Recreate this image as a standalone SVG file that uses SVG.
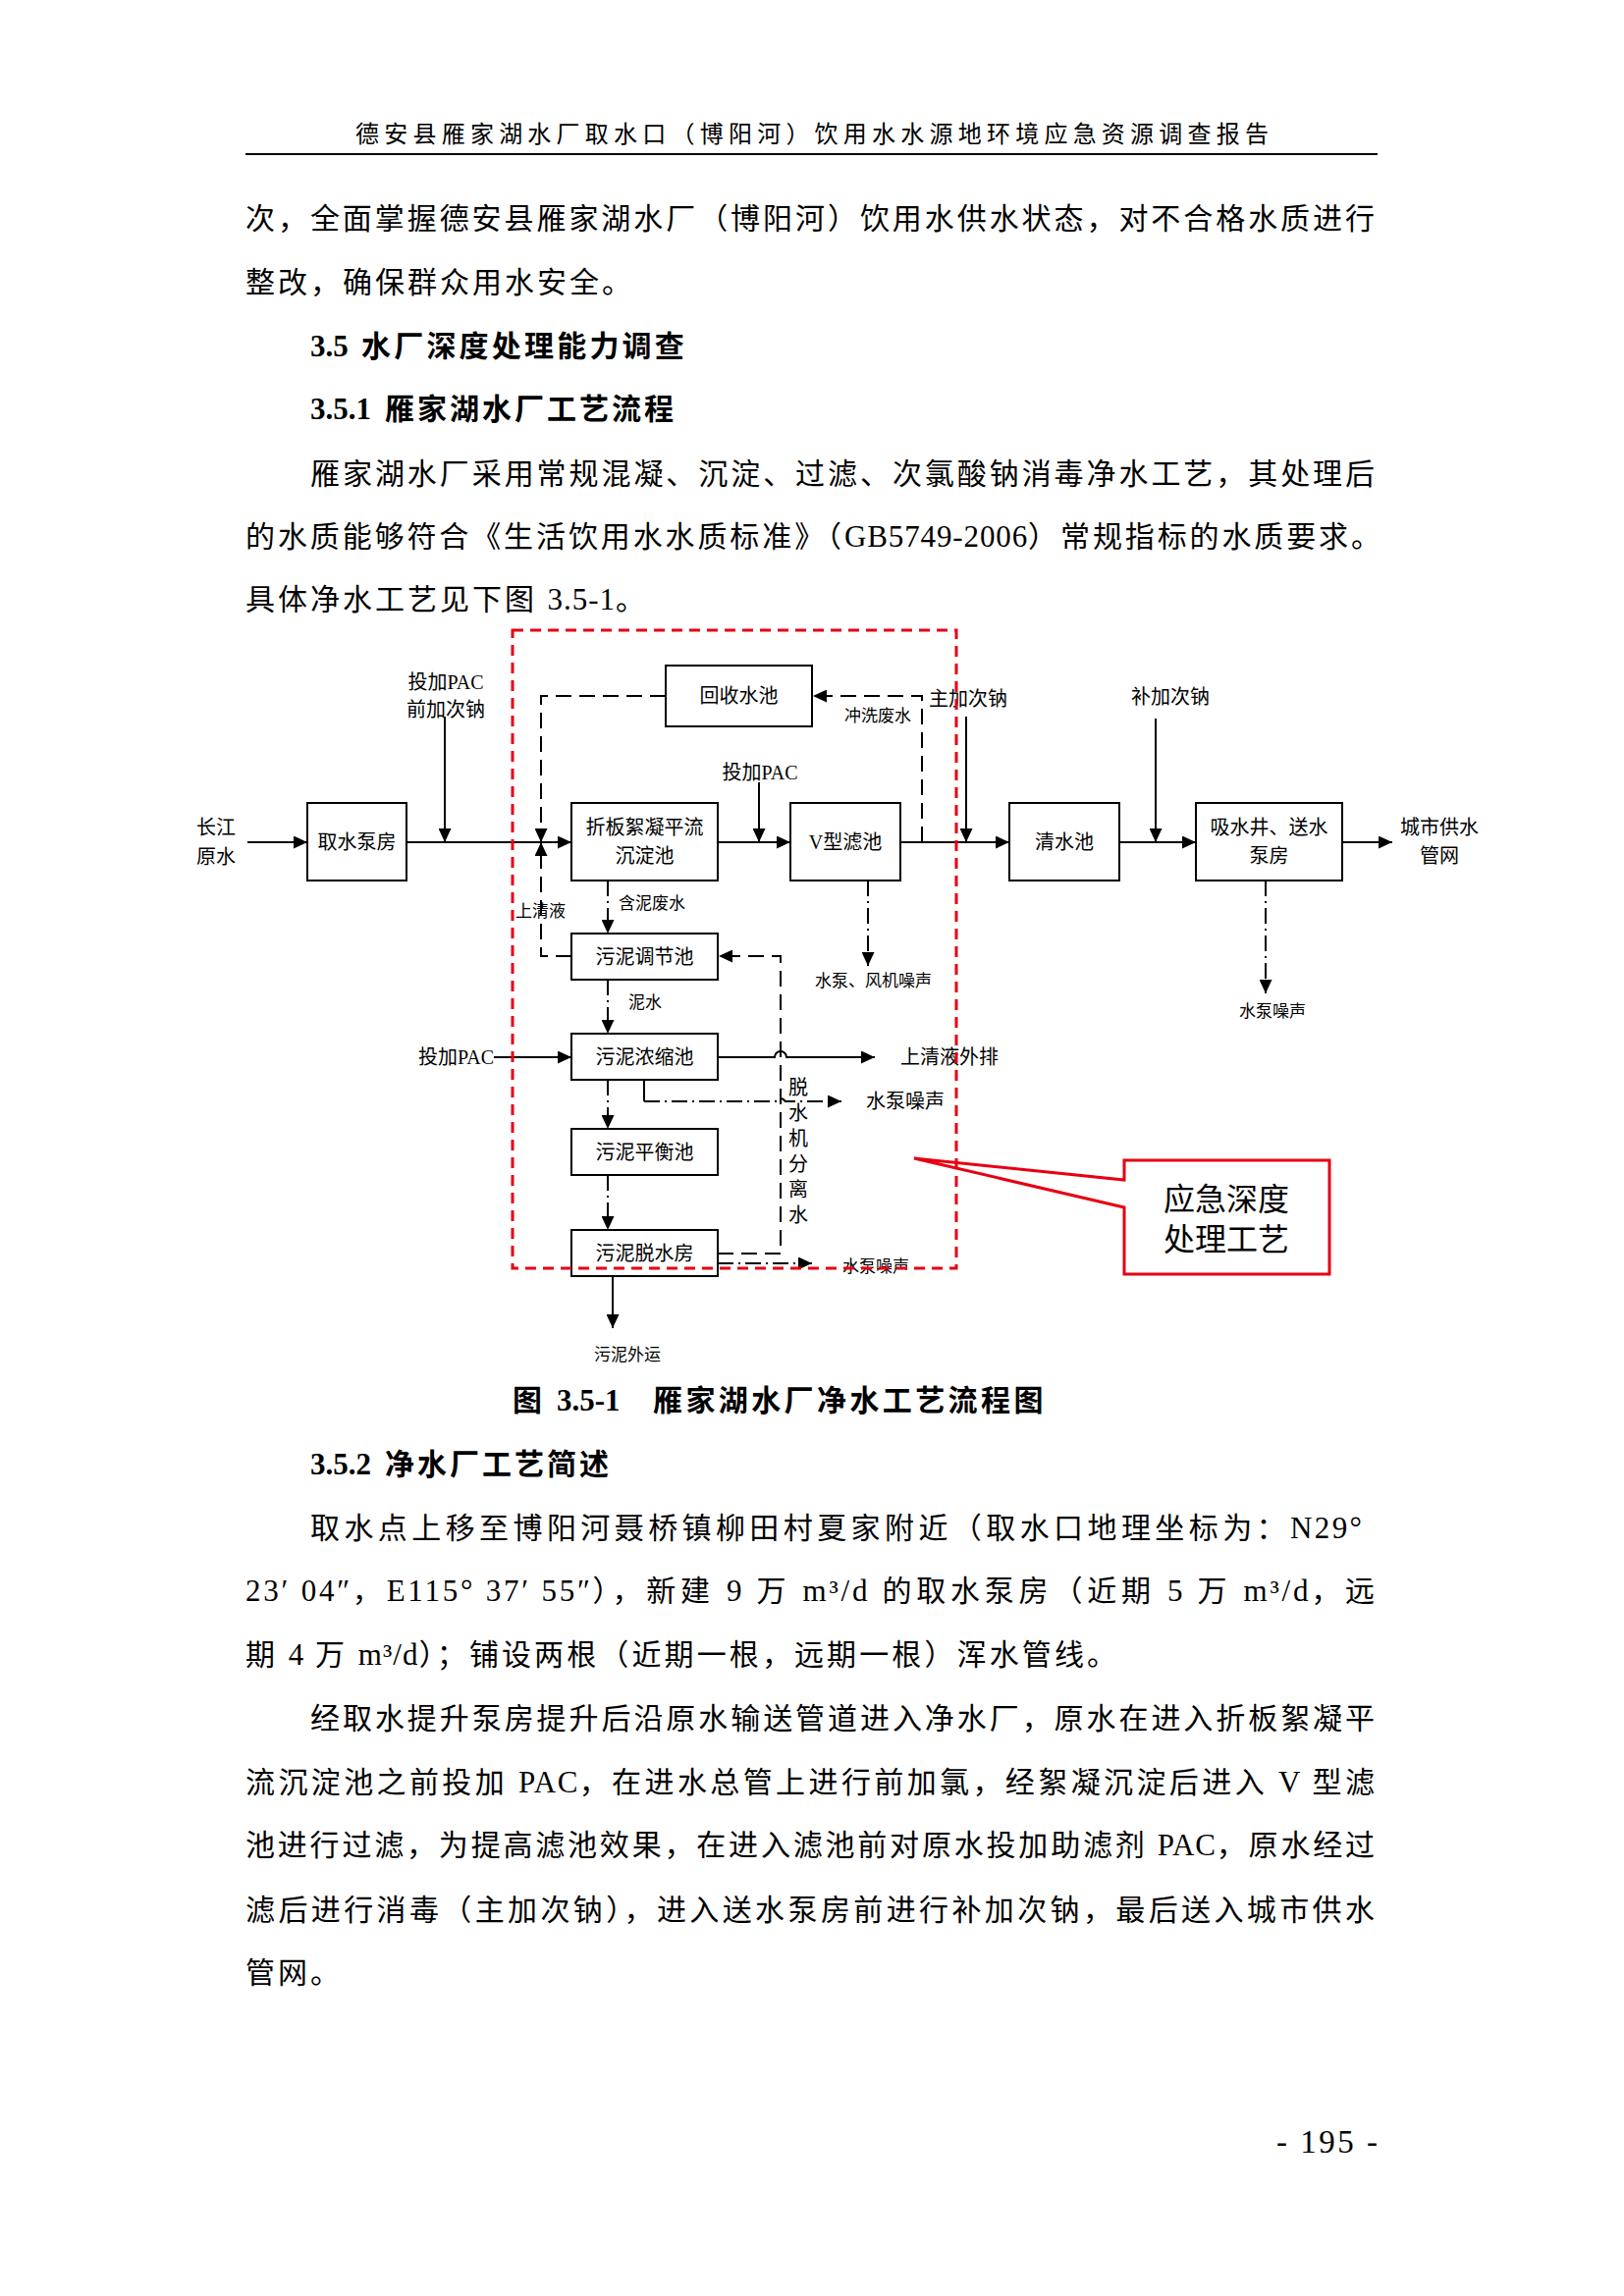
<svg xmlns="http://www.w3.org/2000/svg" width="1654" height="2339" viewBox="0 0 1654 2339">
<style>
.t{font-family:"Liberation Serif","Noto Sans CJK SC",serif;fill:#000}
.c{dominant-baseline:central}
.m{text-anchor:middle}
.e{text-anchor:end}
.f20{font-size:20px}
.f17{font-size:17px}
.body{font-size:30px;letter-spacing:3px}
.lat{font-size:31px;letter-spacing:1px}
.b{font-weight:bold}
.box{fill:#fff;stroke:#000;stroke-width:2}
.ln{fill:none;stroke:#000;stroke-width:2}
.dash{stroke-dasharray:16 8}
.dd{stroke-dasharray:16 5 2 5}
.red{fill:none;stroke:#e60012;stroke-width:3}
</style>
<defs>
<marker id="ah" markerUnits="userSpaceOnUse" markerWidth="14" markerHeight="13" refX="14" refY="6.5" orient="auto">
<path d="M0,0 L14,6.5 L0,13 Z" fill="#000"/>
</marker>
</defs>
<rect width="1654" height="2339" fill="#fff"/>

<g id="page-text">
<text class="t c m" x="827" y="137" font-size="24" textLength="930" lengthAdjust="spacing">德安县雁家湖水厂取水口（博阳河）饮用水水源地环境应急资源调查报告</text>
<path d="M250,157 H1403" stroke="#000" stroke-width="2"/>
<text class="t c body" x="250" y="222" textLength="1153" lengthAdjust="spacing">次，全面掌握德安县雁家湖水厂（博阳河）饮用水供水状态，对不合格水质进行</text>
<text class="t c body" x="250" y="287">整改，确保群众用水安全。</text>
<text class="t c b" x="316" y="352" font-size="31">3.5</text>
<text class="t c body b" x="368" y="352" style="letter-spacing:3.2px">水厂深度处理能力调查</text>
<text class="t c b" x="316" y="416" font-size="31">3.5.1</text>
<text class="t c body b" x="392" y="416">雁家湖水厂工艺流程</text>
<text class="t c body" x="316" y="482" textLength="1087" lengthAdjust="spacing">雁家湖水厂采用常规混凝、沉淀、过滤、次氯酸钠消毒净水工艺，其处理后</text>
<text class="t c body" x="250" y="546" textLength="1159" lengthAdjust="spacing">的水质能够符合《生活饮用水水质标准》（<tspan class="lat">GB5749-2006</tspan>）常规指标的水质要求。</text>
<text class="t c body" x="250" y="610">具体净水工艺见下图 <tspan class="lat">3.5-1</tspan>。</text>
<text class="t c b" x="522" y="1426" font-size="30">图</text>
<text class="t c b" x="567" y="1426" font-size="31">3.5-1</text>
<text class="t c body b" x="665" y="1426" style="letter-spacing:3.4px">雁家湖水厂净水工艺流程图</text>
<text class="t c b" x="316" y="1491" font-size="31">3.5.2</text>
<text class="t c body b" x="392" y="1491">净水厂工艺简述</text>
<text class="t c body" x="316" y="1556" textLength="1072" lengthAdjust="spacing">取水点上移至博阳河聂桥镇柳田村夏家附近（取水口地理坐标为：<tspan class="lat">N29°</tspan></text>
<text class="t c body" x="250" y="1620" textLength="1153" lengthAdjust="spacing"><tspan class="lat">23′ 04″</tspan>，<tspan class="lat">E115° 37′ 55″</tspan>），新建 <tspan class="lat">9</tspan> 万 <tspan class="lat">m³/d</tspan> 的取水泵房（近期 <tspan class="lat">5</tspan> 万 <tspan class="lat">m³/d</tspan>，远</text>
<text class="t c body" x="250" y="1685" textLength="890" lengthAdjust="spacing">期 <tspan class="lat">4</tspan> 万 <tspan class="lat">m³/d</tspan>）；铺设两根（近期一根，远期一根）浑水管线。</text>
<text class="t c body" x="316" y="1750" textLength="1087" lengthAdjust="spacing">经取水提升泵房提升后沿原水输送管道进入净水厂，原水在进入折板絮凝平</text>
<text class="t c body" x="250" y="1815" textLength="1153" lengthAdjust="spacing">流沉淀池之前投加 <tspan class="lat">PAC</tspan>，在进水总管上进行前加氯，经絮凝沉淀后进入 <tspan class="lat">V</tspan> 型滤</text>
<text class="t c body" x="250" y="1879" textLength="1153" lengthAdjust="spacing">池进行过滤，为提高滤池效果，在进入滤池前对原水投加助滤剂 <tspan class="lat">PAC</tspan>，原水经过</text>
<text class="t c body" x="250" y="1945" textLength="1153" lengthAdjust="spacing">滤后进行消毒（主加次钠），进入送水泵房前进行补加次钠，最后送入城市供水</text>
<text class="t c body" x="250" y="2009">管网。</text>
<text class="t c" x="1300" y="2182" font-size="33" textLength="103" lengthAdjust="spacing">- 195 -</text>
</g>

<g id="connectors">
<path class="ln" d="M252,858 H313" marker-end="url(#ah)"/>
<path class="ln" d="M414,858 H582" marker-end="url(#ah)"/>
<path class="ln" d="M731,858 H805" marker-end="url(#ah)"/>
<path class="ln" d="M917,858 H1028" marker-end="url(#ah)"/>
<path class="ln" d="M1140,858 H1218" marker-end="url(#ah)"/>
<path class="ln" d="M1367,858 H1418" marker-end="url(#ah)"/>
<path class="ln" d="M453,730 V858" marker-end="url(#ah)"/>
<path class="ln" d="M773,797 V858" marker-end="url(#ah)"/>
<path class="ln" d="M984,730 V858" marker-end="url(#ah)"/>
<path class="ln" d="M1177,732 V858" marker-end="url(#ah)"/>
<path class="ln dash" d="M678,709 H551 V858" marker-end="url(#ah)"/>
<path class="ln dash" d="M939,858 V709 H828" marker-end="url(#ah)"/>
<path class="ln dash" d="M582,974 H551 V858" marker-end="url(#ah)"/>
<path class="ln dash" d="M731,1277 H795 V974 H732" marker-end="url(#ah)"/>
<path class="ln dd" d="M619,897 V951" marker-end="url(#ah)"/>
<path class="ln dd" d="M619,998 V1053" marker-end="url(#ah)"/>
<path class="ln dd" d="M619,1100 V1150" marker-end="url(#ah)"/>
<path class="ln dd" d="M619,1197 V1253" marker-end="url(#ah)"/>
<path class="ln dd" d="M884,897 V984" marker-end="url(#ah)"/>
<path class="ln dd" d="M1289,897 V1012" marker-end="url(#ah)"/>
<path class="ln" d="M656,1100 V1122"/>
<path class="ln dd" d="M656,1122 H790 q5,-6 10,0 H857" marker-end="url(#ah)"/>
<path class="ln dd" d="M731,1287 H827" marker-end="url(#ah)"/>
<path class="ln" d="M503,1077 H582" marker-end="url(#ah)"/>
<path class="ln" d="M731,1077 H789 a6,6 0 0 1 12,0 H891" marker-end="url(#ah)"/>
<path class="ln" d="M624,1300 V1353" marker-end="url(#ah)"/>
</g>

<g id="labels">
<text class="t c m f20" x="220" y="843">长江</text>
<text class="t c m f20" x="220" y="873">原水</text>
<text class="t c m f20" x="454" y="695">投加PAC</text>
<text class="t c m f20" x="454" y="723">前加次钠</text>
<text class="t c m f20" x="774" y="787">投加PAC</text>
<text class="t c m f17" x="894" y="729">冲洗废水</text>
<text class="t c m f20" x="986" y="712">主加次钠</text>
<text class="t c m f20" x="1192" y="710">补加次钠</text>
<text class="t c m f20" x="1466" y="843">城市供水</text>
<text class="t c m f20" x="1466" y="872">管网</text>
<text class="t c m f17" x="1296" y="1030">水泵噪声</text>
<text class="t c f17" x="630" y="920">含泥废水</text>
<text class="t c f17" x="525" y="928">上清液</text>
<text class="t c f17" x="830" y="999">水泵、风机噪声</text>
<text class="t c f17" x="640" y="1021">泥水</text>
<text class="t c e f20" x="503" y="1077">投加PAC</text>
<text class="t c f20" x="917" y="1077">上清液外排</text>
<text class="t c f20" x="882" y="1122">水泵噪声</text>
<text class="t c m f20" x="813" y="1108">脱</text>
<text class="t c m f20" x="813" y="1134">水</text>
<text class="t c m f20" x="813" y="1160">机</text>
<text class="t c m f20" x="813" y="1186">分</text>
<text class="t c m f20" x="813" y="1212">离</text>
<text class="t c m f20" x="813" y="1238">水</text>
<text class="t c f17" x="858" y="1290">水泵噪声</text>
<text class="t c f17" x="605" y="1380">污泥外运</text>
</g>

<g id="n-qushui"><rect class="box" x="313" y="818" width="101" height="79"/><text class="t c m f20" x="363.5" y="858">取水泵房</text></g>
<g id="n-zheban"><rect class="box" x="582" y="818" width="149" height="79"/><text class="t c m f20" x="656.5" y="843">折板絮凝平流</text><text class="t c m f20" x="656.5" y="872">沉淀池</text></g>
<g id="n-huishou"><rect class="box" x="678" y="678" width="149" height="62"/><text class="t c m f20" x="752.5" y="709">回收水池</text></g>
<g id="n-vlvchi"><rect class="box" x="805" y="818" width="112" height="79"/><text class="t c m f20" x="861" y="858">V型滤池</text></g>
<g id="n-qingshui"><rect class="box" x="1028" y="818" width="112" height="79"/><text class="t c m f20" x="1084" y="858">清水池</text></g>
<g id="n-xishui"><rect class="box" x="1218" y="818" width="149" height="79"/><text class="t c m f20" x="1292.5" y="843">吸水井、送水</text><text class="t c m f20" x="1292.5" y="872">泵房</text></g>
<g id="n-tiaojie"><rect class="box" x="582" y="951" width="149" height="47"/><text class="t c m f20" x="656.5" y="975">污泥调节池</text></g>
<g id="n-nongsuo"><rect class="box" x="582" y="1053" width="149" height="47"/><text class="t c m f20" x="656.5" y="1077">污泥浓缩池</text></g>
<g id="n-pingheng"><rect class="box" x="582" y="1150" width="149" height="47"/><text class="t c m f20" x="656.5" y="1174">污泥平衡池</text></g>
<g id="n-tuoshui"><rect class="box" x="582" y="1253" width="149" height="47"/><text class="t c m f20" x="656.5" y="1277">污泥脱水房</text></g>

<g id="emergency-region">
<rect class="red" x="522" y="642" width="452" height="650" stroke-dasharray="11 7"/>
</g>
<g id="n-callout">
<path class="red" d="M1145,1202 V1182 H1354 V1298 H1145 V1230 L931,1180 Z"/>
<text class="t c m" font-size="32" x="1249" y="1222">应急深度</text>
<text class="t c m" font-size="32" x="1249" y="1263">处理工艺</text>
</g>
</svg>
